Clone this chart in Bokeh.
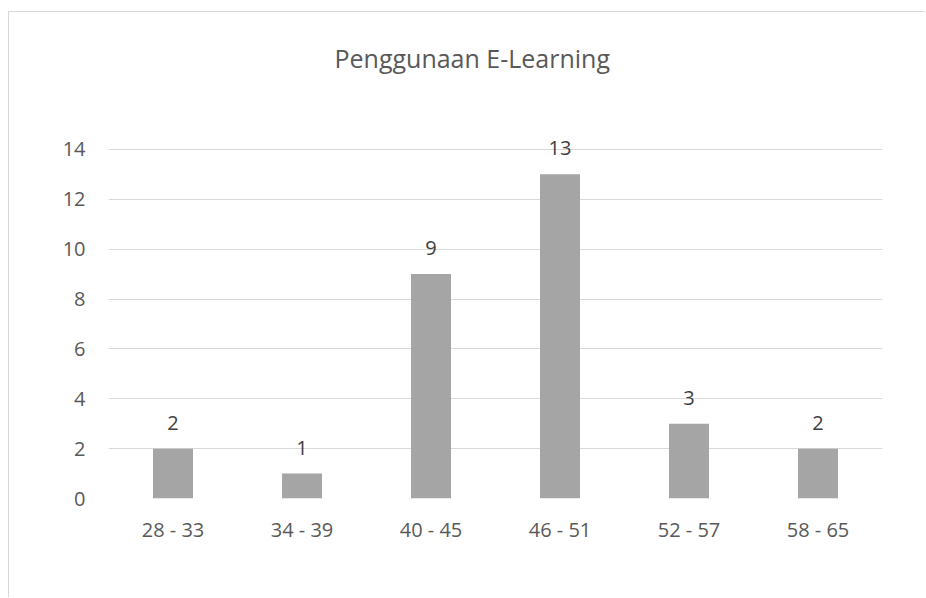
from bokeh.plotting import figure
from bokeh.models import ColumnDataSource, LabelSet, FixedTicker
from bokeh.core.properties import value
from bokeh.embed import file_html
from bokeh.resources import INLINE

categories = ["28 - 33", "34 - 39", "40 - 45", "46 - 51", "52 - 57", "58 - 65"]
counts = [2, 1, 9, 13, 3, 2]
y_ticks = [0, 2, 4, 6, 8, 10, 12, 14]

FONT = "Open Sans"

source = ColumnDataSource(data=dict(cat=categories, val=counts, lbl=[str(c) for c in counts]))

p = figure(
    x_range=categories, y_range=(0, 16),
    width=917, height=586,
    output_backend="svg", toolbar_location=None,
    min_border_left=99, min_border_right=44, min_border_top=87, min_border_bottom=100,
)
p.styles = {"border-top": "1px solid #D9D9D9", "border-left": "1px solid #D9D9D9",
            "margin-top": "11px", "margin-left": "8px"}
p.outline_line_color = None
p.background_fill_color = "white"
p.border_fill_color = "white"

p.vbar(x="cat", top="val", width=0.31, source=source, fill_color="#A5A5A5", line_color=None)

labels = LabelSet(x="cat", y="val", text="lbl", source=source, text_align="center",
                  text_baseline="bottom", y_offset=19, text_font=value(FONT),
                  text_font_size=value("20px"), text_color=value("#404040"))
p.add_layout(labels)

p.title.text = "Penggunaan E-Learning"
p.title.align = "left"
p.title.text_font = FONT
p.title.text_font_size = "25px"
p.title.text_font_style = "normal"
p.title.text_color = "#595959"
p.title.offset = 226
p.title.standoff = 50

p.yaxis.ticker = FixedTicker(ticks=y_ticks)
p.ygrid.grid_line_color = "#D9D9D9"
p.ygrid.grid_line_width = 1
p.xgrid.grid_line_color = None

for ax in (p.xaxis, p.yaxis):
    ax.axis_line_color = None
    ax.major_tick_line_color = None
    ax.minor_tick_line_color = None
    ax.major_label_text_font = FONT
    ax.major_label_text_font_size = "20px"
    ax.major_label_text_color = "#595959"
p.yaxis.major_label_standoff = 17
p.xaxis.major_label_standoff = 11

open("out.html", "w").write(file_html(p, INLINE))
